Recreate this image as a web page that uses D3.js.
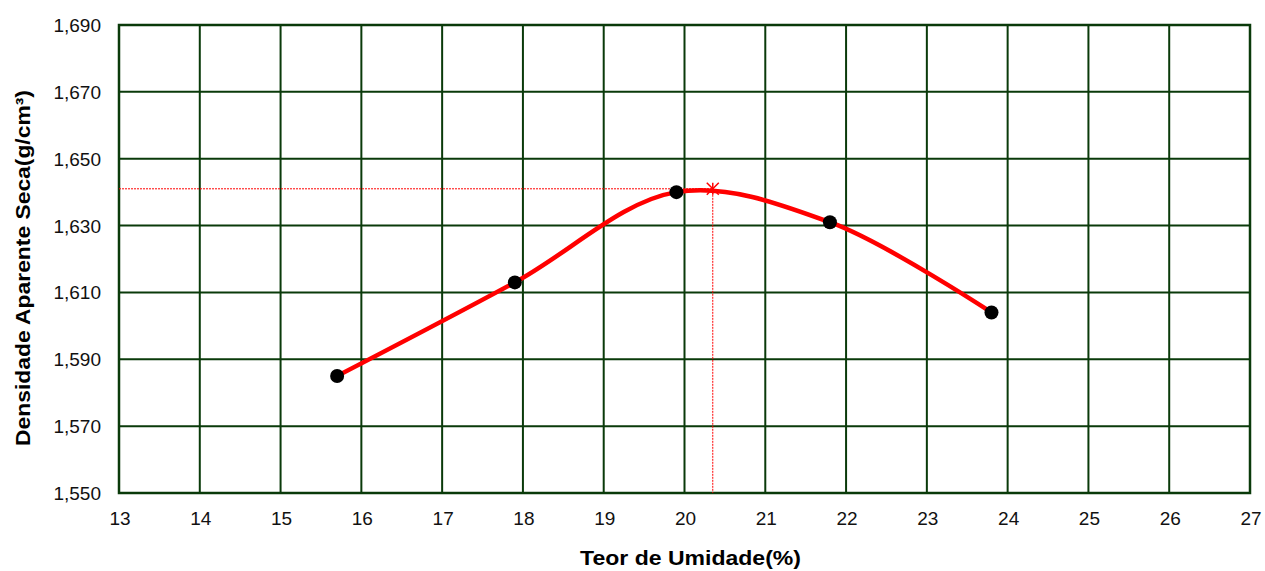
<!DOCTYPE html>
<html>
<head>
<meta charset="utf-8">
<script src="https://cdn.jsdelivr.net/npm/d3@7"></script>
<style>
  body { margin: 0; background: #fff; }
  text { font-family: "Liberation Sans", Arial, sans-serif; }
</style>
</head>
<body>
<svg width="1265" height="571"></svg>
<script>
const umidade = [15.7, 17.9, 19.9, 21.8, 23.8];
const densidade = [1.585, 1.613, 1.640, 1.631, 1.604];
const maxPonto = [20.35, 1.641];
const xTicks = d3.range(13, 28, 1);
const yTicks = [1.55, 1.57, 1.59, 1.61, 1.63, 1.65, 1.67, 1.69];

const svg = d3.select("svg");
const mLeft = 119, mRight = 1250, mTop = 25, mBottom = 493;

const x = d3.scaleLinear().domain([13, 27]).range([mLeft, mRight]);
const y = d3.scaleLinear().domain([1.55, 1.69]).range([mBottom, mTop]);
const fmt = v => d3.format(".3f")(v).replace(".", ",");

const grid = "#0a3a0a";

// grid
svg.append("g").selectAll("line").data(xTicks).enter().append("line")
  .attr("x1", d => x(d)).attr("x2", d => x(d))
  .attr("y1", mTop).attr("y2", mBottom)
  .attr("stroke", grid).attr("stroke-width", 2);
svg.append("g").selectAll("line").data(yTicks).enter().append("line")
  .attr("x1", mLeft).attr("x2", mRight)
  .attr("y1", d => y(d)).attr("y2", d => y(d))
  .attr("stroke", grid).attr("stroke-width", 2);
svg.append("rect").attr("x", mLeft).attr("y", mTop)
  .attr("width", mRight - mLeft).attr("height", mBottom - mTop)
  .attr("fill", "none").attr("stroke", grid).attr("stroke-width", 2.5);

// tick labels
svg.append("g").selectAll("text").data(xTicks).enter().append("text")
  .attr("x", d => x(d) + 1).attr("y", mBottom + 32)
  .attr("text-anchor", "middle").attr("font-size", 19).attr("fill", "#111")
  .text(d => d);
svg.append("g").selectAll("text").data(yTicks).enter().append("text")
  .attr("x", mLeft - 18).attr("y", d => y(d) + 7)
  .attr("text-anchor", "end").attr("font-size", 19).attr("fill", "#111")
  .text(fmt);

// axis titles, stretched wide as in the original
function wideTitle(label, cx, cy, rot, targetLen) {
  const g = svg.append("g");
  const t = g.append("text")
    .attr("font-size", 21).attr("font-weight", "bold")
    .attr("text-anchor", "middle").text(label);
  const k = targetLen / t.node().getComputedTextLength();
  g.attr("transform", `translate(${cx},${cy}) rotate(${rot}) scale(${k},1)`);
}
wideTitle("Teor de Umidade(%)", 690.5, 565, 0, 221);
wideTitle("Densidade Aparente Seca(g/cm³)", 30, 268, -90, 356);

// guide lines to maximum
svg.append("line")
  .attr("x1", mLeft).attr("x2", x(maxPonto[0]))
  .attr("y1", y(maxPonto[1])).attr("y2", y(maxPonto[1]))
  .attr("stroke", "red").attr("stroke-width", 1).attr("stroke-dasharray", "2,1");
svg.append("line")
  .attr("x1", x(maxPonto[0])).attr("x2", x(maxPonto[0]))
  .attr("y1", y(maxPonto[1])).attr("y2", mBottom)
  .attr("stroke", "red").attr("stroke-width", 1).attr("stroke-dasharray", "2,1");

// curve
const pts = umidade.map((u, i) => [u, densidade[i]]);
const line = d3.line().x(d => x(d[0])).y(d => y(d[1])).curve(d3.curveCatmullRom.alpha(0.5));
svg.append("path").datum(pts)
  .attr("d", line).attr("fill", "none")
  .attr("stroke", "#ff0000").attr("stroke-width", 4.5);

// points
svg.append("g").selectAll("circle").data(pts).enter().append("circle")
  .attr("cx", d => x(d[0])).attr("cy", d => y(d[1])).attr("r", 7)
  .attr("fill", "#000");

// max star
const sx = x(maxPonto[0]), sy = y(maxPonto[1]), s = 6;
const star = svg.append("g").attr("stroke", "red").attr("stroke-width", 1.5);
star.append("line").attr("x1", sx - s).attr("x2", sx + s).attr("y1", sy - s).attr("y2", sy + s);
star.append("line").attr("x1", sx - s).attr("x2", sx + s).attr("y1", sy + s).attr("y2", sy - s);
star.append("line").attr("x1", sx).attr("x2", sx).attr("y1", sy - s).attr("y2", sy + s);
</script>
</body>
</html>
